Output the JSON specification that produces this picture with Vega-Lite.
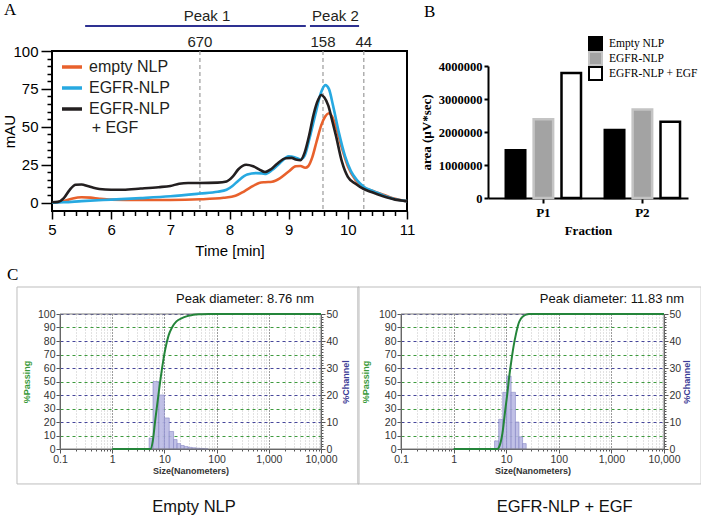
{
 "$schema": "https://vega.github.io/schema/vega-lite/v6.json",
 "background": "white",
 "padding": {"left": 1, "top": 0, "right": 0, "bottom": 0},
 "columns": 2,
 "align": "none",
 "bounds": "flush",
 "spacing": {"row": 103, "column": 81},
 "config": {
  "view": {"stroke": null},
  "font": "Liberation Sans",
  "axis": {"labelColor": "#000", "titleColor": "#000", "tickColor": "#000", "domainColor": "#000", "labelFont": "Liberation Sans", "titleFont": "Liberation Sans", "titleFontWeight": "normal", "grid": false, "labelOverlap": false, "labelFlush": false}
 },
 "datasets": {
  "markers": [{"t": 7.5, "mw": "670"}, {"t": 9.58, "mw": "158"}, {"t": 10.27, "mw": "44"}]
 },
 "concat": [
  {
   "width": 355, "height": 160,
   "view": {"stroke": "#000", "strokeWidth": 2},
   "layer": [
    {
     "data": {"name": "markers"},
     "mark": {"type": "rule", "color": "#9b9b9b", "strokeWidth": 1.2, "strokeDash": [4, 3]},
     "encoding": {"x": {"field": "t", "type": "quantitative",
       "scale": {"domain": [5, 11], "nice": false, "zero": false},
       "axis": {"values": [5,5.2,5.4,5.6,5.8,6,6.2,6.4,6.6,6.8,7,7.2,7.4,7.6,7.8,8,8.2,8.4,8.6,8.8,9,9.2,9.4,9.6,9.8,10,10.2,10.4,10.6,10.8,11],
        "tickCount": 200,
        "labelExpr": "datum.value % 1 === 0 ? format(datum.value, 'd') : ''",
        "tickSize": {"condition": {"test": "datum.value % 1 === 0", "value": 8}, "value": 4.5},
        "tickWidth": 1.5, "domain": false, "title": "Time [min]", "titleFontSize": 15, "labelFontSize": 15,
        "labelPadding": 3, "titlePadding": 6, "labelOverlap": false, "labelFlush": false, "labelBound": false}}}
    },
    {
     "data": {"values": [
      {"s":"empty NLP","t":5.0,"v":0},{"s":"empty NLP","t":5.2,"v":1},{"s":"empty NLP","t":5.35,"v":2.8},{"s":"empty NLP","t":5.5,"v":3.6},{"s":"empty NLP","t":5.65,"v":3.3},{"s":"empty NLP","t":5.8,"v":2.6},{"s":"empty NLP","t":6.0,"v":2},{"s":"empty NLP","t":6.5,"v":1.8},{"s":"empty NLP","t":7.0,"v":1.8},{"s":"empty NLP","t":7.5,"v":2.2},{"s":"empty NLP","t":7.9,"v":3.2},{"s":"empty NLP","t":8.1,"v":4.5},{"s":"empty NLP","t":8.25,"v":7.5},{"s":"empty NLP","t":8.4,"v":11},{"s":"empty NLP","t":8.5,"v":13},{"s":"empty NLP","t":8.6,"v":13.5},{"s":"empty NLP","t":8.72,"v":13.8},{"s":"empty NLP","t":8.85,"v":16},{"s":"empty NLP","t":9.0,"v":20.5},{"s":"empty NLP","t":9.12,"v":24},{"s":"empty NLP","t":9.2,"v":24.2},{"s":"empty NLP","t":9.28,"v":23},{"s":"empty NLP","t":9.33,"v":24},{"s":"empty NLP","t":9.4,"v":30},{"s":"empty NLP","t":9.47,"v":40},{"s":"empty NLP","t":9.55,"v":51},{"s":"empty NLP","t":9.62,"v":57},{"s":"empty NLP","t":9.68,"v":59},{"s":"empty NLP","t":9.73,"v":57},{"s":"empty NLP","t":9.8,"v":50},{"s":"empty NLP","t":9.9,"v":36},{"s":"empty NLP","t":10.0,"v":24},{"s":"empty NLP","t":10.13,"v":15},{"s":"empty NLP","t":10.27,"v":10},{"s":"empty NLP","t":10.4,"v":8},{"s":"empty NLP","t":10.5,"v":6.5},{"s":"empty NLP","t":10.65,"v":4.5},{"s":"empty NLP","t":10.8,"v":2.5},{"s":"empty NLP","t":10.95,"v":1.3},{"s":"empty NLP","t":11.0,"v":1},
      {"s":"EGFR-NLP","t":5.0,"v":0},{"s":"EGFR-NLP","t":5.2,"v":0.3},{"s":"EGFR-NLP","t":5.5,"v":1},{"s":"EGFR-NLP","t":6.0,"v":2},{"s":"EGFR-NLP","t":6.5,"v":3},{"s":"EGFR-NLP","t":7.0,"v":4.2},{"s":"EGFR-NLP","t":7.5,"v":6},{"s":"EGFR-NLP","t":7.8,"v":7.2},{"s":"EGFR-NLP","t":7.95,"v":8.5},{"s":"EGFR-NLP","t":8.05,"v":11},{"s":"EGFR-NLP","t":8.15,"v":14.5},{"s":"EGFR-NLP","t":8.3,"v":18.5},{"s":"EGFR-NLP","t":8.45,"v":19.5},{"s":"EGFR-NLP","t":8.55,"v":19.3},{"s":"EGFR-NLP","t":8.62,"v":19},{"s":"EGFR-NLP","t":8.72,"v":21.5},{"s":"EGFR-NLP","t":8.85,"v":26},{"s":"EGFR-NLP","t":9.0,"v":30.5},{"s":"EGFR-NLP","t":9.1,"v":30},{"s":"EGFR-NLP","t":9.2,"v":28.5},{"s":"EGFR-NLP","t":9.27,"v":31},{"s":"EGFR-NLP","t":9.35,"v":42},{"s":"EGFR-NLP","t":9.45,"v":58},{"s":"EGFR-NLP","t":9.55,"v":73},{"s":"EGFR-NLP","t":9.62,"v":77.5},{"s":"EGFR-NLP","t":9.68,"v":75},{"s":"EGFR-NLP","t":9.75,"v":64},{"s":"EGFR-NLP","t":9.85,"v":46},{"s":"EGFR-NLP","t":9.95,"v":31},{"s":"EGFR-NLP","t":10.05,"v":21},{"s":"EGFR-NLP","t":10.15,"v":15},{"s":"EGFR-NLP","t":10.27,"v":10.5},{"s":"EGFR-NLP","t":10.4,"v":8},{"s":"EGFR-NLP","t":10.5,"v":6.5},{"s":"EGFR-NLP","t":10.65,"v":4},{"s":"EGFR-NLP","t":10.8,"v":2.2},{"s":"EGFR-NLP","t":10.95,"v":1.3},{"s":"EGFR-NLP","t":11.0,"v":1},
      {"s":"EGFR-NLP + EGF","t":5.0,"v":0.3},{"s":"EGFR-NLP + EGF","t":5.1,"v":0.5},{"s":"EGFR-NLP + EGF","t":5.2,"v":3},{"s":"EGFR-NLP + EGF","t":5.3,"v":8.5},{"s":"EGFR-NLP + EGF","t":5.4,"v":11.8},{"s":"EGFR-NLP + EGF","t":5.5,"v":12},{"s":"EGFR-NLP + EGF","t":5.6,"v":11},{"s":"EGFR-NLP + EGF","t":5.7,"v":9.8},{"s":"EGFR-NLP + EGF","t":5.8,"v":9},{"s":"EGFR-NLP + EGF","t":6.0,"v":8.5},{"s":"EGFR-NLP + EGF","t":6.2,"v":8.5},{"s":"EGFR-NLP + EGF","t":6.5,"v":9.3},{"s":"EGFR-NLP + EGF","t":6.8,"v":10.2},{"s":"EGFR-NLP + EGF","t":7.0,"v":11},{"s":"EGFR-NLP + EGF","t":7.15,"v":12.5},{"s":"EGFR-NLP + EGF","t":7.3,"v":13},{"s":"EGFR-NLP + EGF","t":7.5,"v":13},{"s":"EGFR-NLP + EGF","t":7.8,"v":13.2},{"s":"EGFR-NLP + EGF","t":7.95,"v":14},{"s":"EGFR-NLP + EGF","t":8.05,"v":17},{"s":"EGFR-NLP + EGF","t":8.15,"v":22},{"s":"EGFR-NLP + EGF","t":8.28,"v":25},{"s":"EGFR-NLP + EGF","t":8.4,"v":24},{"s":"EGFR-NLP + EGF","t":8.5,"v":22},{"s":"EGFR-NLP + EGF","t":8.6,"v":20.2},{"s":"EGFR-NLP + EGF","t":8.7,"v":22},{"s":"EGFR-NLP + EGF","t":8.8,"v":25.5},{"s":"EGFR-NLP + EGF","t":8.95,"v":29.3},{"s":"EGFR-NLP + EGF","t":9.05,"v":29.5},{"s":"EGFR-NLP + EGF","t":9.12,"v":28.5},{"s":"EGFR-NLP + EGF","t":9.2,"v":28},{"s":"EGFR-NLP + EGF","t":9.27,"v":33},{"s":"EGFR-NLP + EGF","t":9.35,"v":45},{"s":"EGFR-NLP + EGF","t":9.42,"v":58},{"s":"EGFR-NLP + EGF","t":9.5,"v":68},{"s":"EGFR-NLP + EGF","t":9.55,"v":71},{"s":"EGFR-NLP + EGF","t":9.6,"v":69.5},{"s":"EGFR-NLP + EGF","t":9.67,"v":64},{"s":"EGFR-NLP + EGF","t":9.73,"v":55},{"s":"EGFR-NLP + EGF","t":9.8,"v":44},{"s":"EGFR-NLP + EGF","t":9.9,"v":27},{"s":"EGFR-NLP + EGF","t":10.0,"v":17},{"s":"EGFR-NLP + EGF","t":10.13,"v":12.5},{"s":"EGFR-NLP + EGF","t":10.27,"v":9},{"s":"EGFR-NLP + EGF","t":10.4,"v":7},{"s":"EGFR-NLP + EGF","t":10.5,"v":5.5},{"s":"EGFR-NLP + EGF","t":10.65,"v":3.5},{"s":"EGFR-NLP + EGF","t":10.8,"v":2},{"s":"EGFR-NLP + EGF","t":10.95,"v":1.2},{"s":"EGFR-NLP + EGF","t":11.0,"v":1}
     ]},
     "mark": {"type": "line", "strokeWidth": 2.6, "interpolate": "monotone"},
     "encoding": {
      "x": {"field": "t", "type": "quantitative"},
      "y": {"field": "v", "type": "quantitative",
       "scale": {"domain": [-5.5, 100], "nice": false, "zero": false},
       "axis": {"values": [0,5,10,15,20,25,30,35,40,45,50,55,60,65,70,75,80,85,90,95,100],
        "tickCount": 200,
        "labelExpr": "datum.value % 25 === 0 ? format(datum.value, 'd') : ''",
        "tickSize": {"condition": {"test": "datum.value % 25 === 0", "value": 11}, "value": 5},
        "tickWidth": 1.5, "domain": false, "title": "mAU", "titleFontSize": 15, "labelFontSize": 15,
        "labelPadding": 3, "titlePadding": -5, "labelOverlap": false}},
      "color": {"field": "s", "type": "nominal",
       "scale": {"domain": ["empty NLP", "EGFR-NLP", "EGFR-NLP + EGF"], "range": ["#e8612c", "#27a9e1", "#231f20"]},
       "legend": {"orient": "none", "legendX": 8, "legendY": 4, "direction": "vertical", "padding": 0,
        "symbolType": "stroke", "symbolSize": 400, "symbolStrokeWidth": 3.5,
        "labelFont": "Liberation Sans", "labelFontSize": 16, "labelColor": "#231f20", "labelOffset": 5, "rowPadding": 1,
        "labelExpr": "datum.label === 'EGFR-NLP + EGF' ? 'EGFR-NLP' : datum.label",
        "title": "+ EGF", "titleOrient": "bottom", "titleAnchor": "middle",
        "titleFont": "Liberation Sans", "titleFontSize": 16, "titleFontWeight": "normal", "titleColor": "#231f20", "titlePadding": 3}}
     }
    },
    {
     "data": {"name": "markers"},
     "mark": {"type": "text", "fontSize": 15, "font": "Liberation Sans", "color": "#231f20", "baseline": "middle"},
     "encoding": {"x": {"field": "t", "type": "quantitative"}, "y": {"datum": 105.9}, "text": {"field": "mw"}}
    },
    {
     "data": {"values": [{"peak": "Peak 1", "start": 5.56, "end": 9.29}, {"peak": "Peak 2", "start": 9.36, "end": 10.19}]},
     "mark": {"type": "rule", "color": "#2e3192", "strokeWidth": 2},
     "encoding": {"x": {"field": "start", "type": "quantitative"}, "x2": {"field": "end"}, "y": {"datum": 116.5}}
    },
    {
     "data": {"values": [{"peak": "Peak 1", "t": 7.62}, {"peak": "Peak 2", "t": 9.79}]},
     "mark": {"type": "text", "fontSize": 15, "font": "Liberation Sans", "color": "#231f20", "baseline": "middle"},
     "encoding": {"x": {"field": "t", "type": "quantitative"}, "y": {"datum": 123}, "text": {"field": "peak"}}
    },
    {
     "data": {"values": [{"panel": "A"}]},
     "mark": {"type": "text", "fontSize": 17, "font": "Liberation Serif", "align": "left", "baseline": "middle", "color": "#000"},
     "encoding": {"x": {"datum": 4.19}, "y": {"datum": 127}, "text": {"field": "panel"}}
    }
   ]
  },
  {
   "width": 200, "height": 147,
   "layer": [
    {
     "data": {"values": [
      {"fraction": "P1", "sample": "Empty NLP", "area": 1450000},
      {"fraction": "P1", "sample": "EGFR-NLP", "area": 2390000},
      {"fraction": "P1", "sample": "EGFR-NLP + EGF", "area": 3790000},
      {"fraction": "P2", "sample": "Empty NLP", "area": 2060000},
      {"fraction": "P2", "sample": "EGFR-NLP", "area": 2680000},
      {"fraction": "P2", "sample": "EGFR-NLP + EGF", "area": 2310000}
     ]},
     "mark": {"type": "bar", "strokeWidth": 2.5},
     "encoding": {
      "x": {"field": "fraction", "type": "nominal",
       "scale": {"paddingInner": 0.24, "paddingOuter": 0.13, "align": 0.69},
       "axis": {"title": "Fraction", "labelAngle": 0, "labelFont": "Liberation Serif", "labelFontWeight": "bold", "labelFontSize": 13,
        "titleFont": "Liberation Serif", "titleFontWeight": "bold", "titleFontSize": 13, "domainWidth": 2, "tickWidth": 2, "tickSize": 5,
        "labelPadding": 3, "titlePadding": 5}},
      "xOffset": {"field": "sample", "type": "nominal", "scale": {"domain": ["Empty NLP", "EGFR-NLP", "EGFR-NLP + EGF"], "paddingInner": 0.3}},
      "y": {"field": "area", "type": "quantitative",
       "scale": {"domain": [0, 4000000], "range": [147, 15], "nice": false},
       "axis": {"values": [0, 1000000, 2000000, 3000000, 4000000], "tickCount": 50, "format": "d", "title": "area (µV*sec)",
        "labelFont": "Liberation Serif", "labelFontWeight": "bold", "labelFontSize": 12.5, "labelOverlap": false,
        "titleFont": "Liberation Serif", "titleFontWeight": "bold", "titleFontSize": 13,
        "domainWidth": 2, "tickWidth": 2, "tickSize": 4, "labelPadding": 2, "titlePadding": 5}},
      "fill": {"field": "sample", "type": "nominal",
       "scale": {"domain": ["Empty NLP", "EGFR-NLP", "EGFR-NLP + EGF"], "range": ["#000000", "#a3a3a3", "#ffffff"]},
       "legend": {"orient": "none", "legendX": 536, "legendY": -15, "title": null, "padding": 0, "symbolType": "square", "symbolSize": 169,
        "symbolStrokeWidth": 2, "clipHeight": 15, "labelFont": "Liberation Serif", "labelFontSize": 11.5, "labelColor": "#000", "labelOffset": 6, "rowPadding": 0}},
      "stroke": {"field": "sample", "type": "nominal",
       "scale": {"domain": ["Empty NLP", "EGFR-NLP", "EGFR-NLP + EGF"], "range": ["#000000", "#c4c4c4", "#000000"]},
       "legend": {"orient": "none", "legendX": 536, "legendY": -15, "title": null, "padding": 0, "symbolType": "square", "symbolSize": 169,
        "symbolStrokeWidth": 2, "clipHeight": 15, "labelFont": "Liberation Serif", "labelFontSize": 11.5, "labelColor": "#000", "labelOffset": 6, "rowPadding": 0}}
     }
    },
    {
     "data": {"values": [{"panel": "B"}]},
     "mark": {"type": "text", "fontSize": 17, "font": "Liberation Serif", "align": "left", "baseline": "middle", "color": "#000"},
     "encoding": {"x": {"datum": "P1", "bandPosition": -1.086}, "y": {"datum": 5636000}, "text": {"field": "panel"}}
    }
   ]
  },
  {
   "width": 269, "height": 135,
   "layer": [
    {
     "data": {"values": [
      {"lo":5.1,"hi":6.05,"ch":4},{"lo":6.05,"hi":7.8,"ch":25},{"lo":7.8,"hi":10,"ch":20},{"lo":10,"hi":12.4,"ch":11.5},{"lo":12.4,"hi":15,"ch":6.5},{"lo":15,"hi":17.5,"ch":3.5},{"lo":17.5,"hi":20.5,"ch":2},{"lo":20.5,"hi":24,"ch":1.3},{"lo":24,"hi":28.5,"ch":0.9},{"lo":28.5,"hi":34,"ch":0.6},{"lo":34,"hi":40,"ch":0.45},{"lo":40,"hi":48,"ch":0.3},{"lo":48,"hi":57,"ch":0.2},{"lo":57,"hi":68,"ch":0.1}
     ]},
     "mark": {"type": "rect", "fill": "#b9b9e3", "stroke": "#8787c4", "strokeWidth": 0.6, "fillOpacity": 0.9},
     "encoding": {
      "x": {"field": "lo", "type": "quantitative",
       "scale": {"type": "log", "domain": [0.1, 10000], "range": [8, 269], "nice": false},
       "axis": {"orient": "bottom", "values": [0.1,0.2,0.3,0.4,0.5,0.6,0.7,0.8,0.9,1,2,3,4,5,6,7,8,9,10,20,30,40,50,60,70,80,90,100,200,300,400,500,600,700,800,900,1000,2000,3000,4000,5000,6000,7000,8000,9000,10000],
        "tickCount": 200,
        "labelExpr": "abs(log(datum.value)/LN10 - round(log(datum.value)/LN10)) < 0.001 ? format(datum.value, ',') : ''",
        "tickSize": {"condition": {"test": "abs(log(datum.value)/LN10 - round(log(datum.value)/LN10)) < 0.001", "value": 4}, "value": 2},
        "grid": true, "gridColor": {"condition": {"test": "abs(log(datum.value)/LN10 - round(log(datum.value)/LN10)) < 0.001", "value": "#3a3a3a"}, "value": "#c4c4c4"},
        "gridDash": [1, 2], "title": "Size(Nanometers)", "titleFontSize": 9, "titleFontWeight": "bold", "titleColor": "#333",
        "titlePadding": 2, "labelFontSize": 10.5, "labelColor": "#333", "labelPadding": 1, "labelOverlap": false, "labelFlush": false, "labelBound": false,
        "domainColor": "#555", "tickColor": "#555"}},
      "x2": {"field": "hi"},
      "y": {"field": "ch", "type": "quantitative", "scale": {"domain": [0, 50], "nice": false},
       "axis": {"orient": "right", "values": [0,1,2,3,4,5,6,7,8,9,10,11,12,13,14,15,16,17,18,19,20,21,22,23,24,25,26,27,28,29,30,31,32,33,34,35,36,37,38,39,40,41,42,43,44,45,46,47,48,49,50],
        "tickCount": 200,
        "labelExpr": "datum.value % 10 === 0 ? format(datum.value, 'd') : ''",
        "tickSize": {"condition": {"test": "datum.value % 10 === 0", "value": 4}, "value": 2},
        "grid": false, "title": "%Channel", "titleColor": "#3c3c96", "titleFontWeight": "bold", "titleFontSize": 9, "titleAngle": -90, "titleBaseline": "top",
        "labelFontSize": 10.5, "labelColor": "#333", "labelPadding": 1, "domainColor": "#555", "tickColor": "#555", "titlePadding": 4, "labelOverlap": false}},
      "y2": {"datum": 0}
     }
    },
    {
     "layer": [
      {
       "data": {"values": [{"box": "C-left"}]},
       "mark": {"type": "rect", "fill": "transparent", "stroke": "#bdbdbd", "strokeWidth": 1},
       "encoding": {"x": {"datum": 0.015}, "x2": {"datum": 53460},
        "y": {"datum": -25.9, "type": "quantitative", "scale": {"domain": [0, 100], "nice": false},
         "axis": {"orient": "left", "offset": -8, "values": [0,10,20,30,40,50,60,70,80,90,100], "tickCount": 200, "format": "d",
          "tickSize": 4,
          "grid": true, "gridColor": {"condition": {"test": "datum.value % 20 === 0", "value": "#46469a"}, "value": "#3d9a3d"},
          "gridDash": [3, 3], "title": "%Passing", "titleColor": "#3a9a3a", "titleFontWeight": "bold", "titleFontSize": 9,
          "labelFontSize": 10.5, "labelColor": "#333", "labelPadding": 1, "domainColor": "#555", "tickColor": "#555", "titlePadding": 6, "labelOverlap": false}},
        "y2": {"datum": 120}}
      },
      {
       "data": {"values": [{"box": "frame"}]},
       "mark": {"type": "rect", "fill": "transparent", "stroke": "#7a7a7a", "strokeWidth": 1},
       "encoding": {"x": {"datum": 0.1}, "x2": {"datum": 10000}, "y": {"datum": 0}, "y2": {"datum": 100}}
      },
      {
       "data": {"values": [
        {"size":1,"pass":0},{"size":5.4,"pass":0},{"size":6.0,"pass":6},{"size":6.7,"pass":22},{"size":7.8,"pass":42},{"size":9.0,"pass":59.5},{"size":10.4,"pass":74},{"size":12,"pass":84},{"size":14,"pass":90},{"size":17,"pass":94.5},{"size":21.7,"pass":97},{"size":28,"pass":98.5},{"size":36,"pass":99.5},{"size":50,"pass":99.8},{"size":71,"pass":100},{"size":10000,"pass":100}
       ]},
       "mark": {"type": "line", "color": "#24853a", "strokeWidth": 2, "interpolate": "monotone"},
       "encoding": {"x": {"field": "size", "type": "quantitative"}, "y": {"field": "pass", "type": "quantitative"}}
      },
      {
       "data": {"values": [{"label": "Peak diameter: 8.76 nm"}]},
       "mark": {"type": "text", "fontSize": 13, "font": "Liberation Sans", "align": "right", "baseline": "middle", "color": "#111"},
       "encoding": {"x": {"datum": 7350}, "y": {"datum": 111}, "text": {"field": "label"}}
      },
      {
       "data": {"values": [{"label": "Empty NLP"}]},
       "mark": {"type": "text", "fontSize": 16.5, "font": "Liberation Sans", "align": "center", "baseline": "middle", "color": "#111"},
       "encoding": {"x": {"datum": 36.9}, "y": {"datum": -43}, "text": {"field": "label"}}
      },
      {
       "data": {"values": [{"label": "C"}]},
       "mark": {"type": "text", "fontSize": 17, "font": "Liberation Serif", "align": "left", "baseline": "middle", "color": "#000"},
       "encoding": {"x": {"datum": 0.00966}, "y": {"datum": 128.9}, "text": {"field": "label"}}
      }
     ]
    }
   ],
   "resolve": {"scale": {"y": "independent"}}
  },
  {
   "width": 176, "height": 135,
   "layer": [
    {
     "data": {"values": [
      {"lo":6.0,"hi":7.2,"ch":3},{"lo":7.2,"hi":8.6,"ch":11},{"lo":8.6,"hi":10.2,"ch":21},{"lo":10.2,"hi":12.4,"ch":27},{"lo":12.4,"hi":15,"ch":21},{"lo":15,"hi":17.5,"ch":10},{"lo":17.5,"hi":20.5,"ch":4.5},{"lo":20.5,"hi":24,"ch":2}
     ]},
     "mark": {"type": "rect", "fill": "#b9b9e3", "stroke": "#8787c4", "strokeWidth": 0.6, "fillOpacity": 0.9},
     "encoding": {
      "x": {"field": "lo", "type": "quantitative",
       "scale": {"type": "log", "domain": [0.1, 10000], "range": [-87, 176], "nice": false},
       "axis": {"orient": "bottom", "values": [0.1,0.2,0.3,0.4,0.5,0.6,0.7,0.8,0.9,1,2,3,4,5,6,7,8,9,10,20,30,40,50,60,70,80,90,100,200,300,400,500,600,700,800,900,1000,2000,3000,4000,5000,6000,7000,8000,9000,10000],
        "tickCount": 200,
        "labelExpr": "abs(log(datum.value)/LN10 - round(log(datum.value)/LN10)) < 0.001 ? format(datum.value, ',') : ''",
        "tickSize": {"condition": {"test": "abs(log(datum.value)/LN10 - round(log(datum.value)/LN10)) < 0.001", "value": 4}, "value": 2},
        "grid": true, "gridColor": {"condition": {"test": "abs(log(datum.value)/LN10 - round(log(datum.value)/LN10)) < 0.001", "value": "#3a3a3a"}, "value": "#c4c4c4"},
        "gridDash": [1, 2], "title": "Size(Nanometers)", "titleFontSize": 9, "titleFontWeight": "bold", "titleColor": "#333",
        "titlePadding": 2, "labelFontSize": 10.5, "labelColor": "#333", "labelPadding": 1, "labelOverlap": false, "labelFlush": false, "labelBound": false,
        "domainColor": "#555", "tickColor": "#555"}},
      "x2": {"field": "hi"},
      "y": {"field": "ch", "type": "quantitative", "scale": {"domain": [0, 50], "nice": false},
       "axis": {"orient": "right", "values": [0,1,2,3,4,5,6,7,8,9,10,11,12,13,14,15,16,17,18,19,20,21,22,23,24,25,26,27,28,29,30,31,32,33,34,35,36,37,38,39,40,41,42,43,44,45,46,47,48,49,50],
        "tickCount": 200,
        "labelExpr": "datum.value % 10 === 0 ? format(datum.value, 'd') : ''",
        "tickSize": {"condition": {"test": "datum.value % 10 === 0", "value": 4}, "value": 2},
        "grid": false, "title": "%Channel", "titleColor": "#3c3c96", "titleFontWeight": "bold", "titleFontSize": 9, "titleAngle": -90, "titleBaseline": "top",
        "labelFontSize": 10.5, "labelColor": "#333", "labelPadding": 1, "domainColor": "#555", "tickColor": "#555", "titlePadding": 2, "labelOverlap": false}},
      "y2": {"datum": 0}
     }
    },
    {
     "layer": [
      {
       "data": {"values": [{"box": "C-right"}]},
       "mark": {"type": "rect", "fill": "transparent", "stroke": "#bdbdbd", "strokeWidth": 1},
       "encoding": {"x": {"datum": 0.01511}, "x2": {"datum": 50800},
        "y": {"datum": -25.9, "type": "quantitative", "scale": {"domain": [0, 100], "nice": false},
         "axis": {"orient": "left", "offset": 87, "values": [0,10,20,30,40,50,60,70,80,90,100], "tickCount": 200, "format": "d",
          "tickSize": 4,
          "grid": true, "gridColor": {"condition": {"test": "datum.value % 20 === 0", "value": "#46469a"}, "value": "#3d9a3d"},
          "gridDash": [3, 3], "title": "%Passing", "titleColor": "#3a9a3a", "titleFontWeight": "bold", "titleFontSize": 9,
          "labelFontSize": 10.5, "labelColor": "#333", "labelPadding": 1, "domainColor": "#555", "tickColor": "#555", "titlePadding": 8, "labelOverlap": false}},
        "y2": {"datum": 120}}
      },
      {
       "data": {"values": [{"box": "frame"}]},
       "mark": {"type": "rect", "fill": "transparent", "stroke": "#7a7a7a", "strokeWidth": 1},
       "encoding": {"x": {"datum": 0.1}, "x2": {"datum": 10000}, "y": {"datum": 0}, "y2": {"datum": 100}}
      },
      {
       "data": {"values": [
        {"size":1,"pass":0},{"size":6.8,"pass":0},{"size":7.5,"pass":2.5},{"size":8.5,"pass":12},{"size":9.6,"pass":29},{"size":10.5,"pass":41},{"size":11.2,"pass":51},{"size":12.4,"pass":64},{"size":13.8,"pass":76},{"size":15.5,"pass":86},{"size":17.2,"pass":93},{"size":19,"pass":96.5},{"size":21.4,"pass":98.5},{"size":24,"pass":99.5},{"size":27,"pass":100},{"size":10000,"pass":100}
       ]},
       "mark": {"type": "line", "color": "#24853a", "strokeWidth": 2, "interpolate": "monotone"},
       "encoding": {"x": {"field": "size", "type": "quantitative"}, "y": {"field": "pass", "type": "quantitative"}}
      },
      {
       "data": {"values": [{"label": "Peak diameter: 11.83 nm"}]},
       "mark": {"type": "text", "fontSize": 13, "font": "Liberation Sans", "align": "right", "baseline": "middle", "color": "#111"},
       "encoding": {"x": {"datum": 24100}, "y": {"datum": 111.1}, "text": {"field": "label"}}
      },
      {
       "data": {"values": [{"label": "EGFR-NLP + EGF"}]},
       "mark": {"type": "text", "fontSize": 16.5, "font": "Liberation Sans", "align": "center", "baseline": "middle", "color": "#111"},
       "encoding": {"x": {"datum": 129}, "y": {"datum": -43}, "text": {"field": "label"}}
      }
     ]
    }
   ],
   "resolve": {"scale": {"y": "independent"}}
  }
 ]
}
